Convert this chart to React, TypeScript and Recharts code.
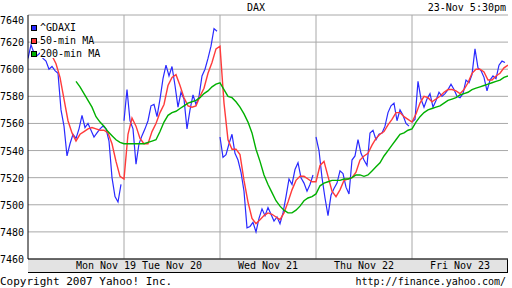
import React from 'react';
import { CartesianGrid, Legend, Line, LineChart, XAxis, YAxis } from 'recharts';

const FONT = '"DejaVu Sans Mono", monospace';

// time axis: 96 slots per session, 5 sessions
const SLOTS_PER_DAY = 96;
const TOTAL_SLOTS = 480;

// ^GDAXI, one value every 3 slots inside each session
const gdaxiMon = [7608, 7618, 7612, 7610, 7612, 7608, 7606, 7600, 7602, 7599, 7597, 7570, 7558, 7536, 7545, 7552, 7549, 7556, 7566, 7557, 7560, 7555, 7550, 7553, 7556, 7558, 7556, 7547, 7520, 7506, 7502, 7515];
const gdaxiTue = [7562, 7585, 7562, 7556, 7530, 7545, 7551, 7556, 7562, 7573, 7574, 7565, 7578, 7593, 7603, 7595, 7602, 7588, 7572, 7583, 7578, 7556, 7570, 7581, 7574, 7580, 7595, 7600, 7608, 7617, 7630, 7628];
const gdaxiWed = [7550, 7535, 7537, 7545, 7552, 7538, 7533, 7524, 7510, 7483, 7484, 7487, 7480, 7490, 7497, 7492, 7498, 7493, 7488, 7491, 7486, 7494, 7506, 7519, 7515, 7526, 7531, 7520, 7516, 7510, 7515, 7522];
const gdaxiThu = [7550, 7540, 7520, 7505, 7492, 7507, 7512, 7516, 7525, 7523, 7513, 7508, 7533, 7536, 7548, 7538, 7533, 7529, 7553, 7555, 7548, 7552, 7553, 7558, 7568, 7573, 7575, 7562, 7570, 7566, 7560, 7558];
const gdaxiFri = [7561, 7563, 7591, 7578, 7572, 7578, 7582, 7572, 7577, 7583, 7580, 7582, 7585, 7589, 7585, 7580, 7579, 7582, 7592, 7590, 7596, 7615, 7601, 7599, 7594, 7584, 7592, 7595, 7593, 7603, 7606, 7605];
const GDAXI_STEP = 3;

// moving averages, one value every 4 slots
const ma50Start = 20;
const ma50 = [
  7615, 7610, 7604, 7594, 7578, 7562, 7553, 7547, 7552, 7554, 7556, 7557, 7556, 7555, 7555, 7553, 7545, 7532, 7521,
  7519, 7552, 7564, 7558, 7549, 7545, 7545, 7554, 7560, 7568, 7574, 7588, 7594, 7596, 7588, 7579, 7573, 7572, 7573, 7580, 7586, 7597, 7605, 7615,
  7617, 7575, 7548, 7541, 7541, 7537, 7518, 7502, 7490, 7486, 7489, 7492, 7494, 7493, 7491, 7489, 7494, 7502, 7511, 7518, 7521, 7521, 7519, 7517,
  7517, 7529, 7532, 7521, 7510, 7506, 7511, 7518, 7519, 7520, 7524, 7533, 7536, 7538, 7544, 7549, 7552, 7554, 7559, 7563, 7568, 7568, 7565, 7563,
  7561, 7567, 7575, 7580, 7579, 7576, 7578, 7580, 7583, 7585, 7585, 7584, 7582, 7585, 7590, 7597, 7600, 7600, 7598, 7592, 7592, 7595, 7597, 7601, 7603
];
const ma200Start = 48;
const ma200 = [
  7591, 7587, 7582, 7577, 7572, 7565, 7561, 7558, 7554, 7551, 7548, 7546,
  7545, 7545, 7545, 7545, 7545, 7545, 7546, 7547, 7548, 7554, 7561, 7566, 7568, 7569, 7571, 7573, 7575, 7576, 7577, 7579, 7582, 7584, 7587, 7589,
  7590, 7585, 7580, 7579, 7576, 7572, 7567, 7561, 7553, 7541, 7532, 7522, 7515, 7509, 7503, 7499, 7496, 7494, 7494, 7496, 7499, 7503, 7505, 7506,
  7508, 7514, 7516, 7517, 7518, 7518, 7518, 7519, 7519, 7520, 7522, 7522, 7521, 7522, 7525, 7528, 7531, 7536, 7540, 7544, 7548, 7552, 7553, 7555,
  7556, 7561, 7565, 7568, 7570, 7571, 7572, 7573, 7575, 7577, 7578, 7579, 7581, 7582, 7583, 7585, 7586, 7587, 7588, 7589, 7590, 7591, 7592, 7594, 7595
];
const MA_STEP = 4;

const dayLabels = ['Mon Nov 19', 'Tue Nov 20', 'Wed Nov 21', 'Thu Nov 22', 'Fri Nov 23'];
const dayLabelSlots = [78, 144, 240, 336, 432];
const dayBreaks = [96, 192, 288, 384];
const priceTicks = [7460, 7480, 7500, 7520, 7540, 7560, 7580, 7600, 7620, 7640];

const series = [
  { key: 'gdaxi', name: '^GDAXI', color: '#2a2aff' },
  { key: 'ma50', name: '50-min MA', color: '#ff3b3b' },
  { key: 'ma200', name: '200-min MA', color: '#00b000' }
];

// sessions are not joined to each other
const gdaxiData = [gdaxiMon, gdaxiTue, gdaxiWed, gdaxiThu, gdaxiFri].flatMap((day, d) => [
  ...day.map((v, i) => ({ t: d * SLOTS_PER_DAY + i * GDAXI_STEP, v })),
  { t: d * SLOTS_PER_DAY + 94.5, v: null }
]);
const ma50Data = ma50.map((v, i) => ({ t: ma50Start + i * MA_STEP, v }));
const ma200Data = ma200.map((v, i) => ({ t: ma200Start + i * MA_STEP, v }));

const PriceTick = ({ x, y, payload }: any) => (
  <text x={x} y={Math.max(y, 20) + 4} textAnchor="end" fontFamily={FONT} fontSize={10} fill="#000">
    {payload.value}
  </text>
);

const DayTick = ({ x, y, payload, index }: any) => (
  <text x={x} y={y + 10} textAnchor="middle" fontFamily={FONT} fontSize={10} fill="#000">
    {dayLabels[index] ?? payload.value}
  </text>
);

const LegendBox = () => (
  <div style={{ fontFamily: FONT, fontSize: 10 }}>
    {series.map((s) => (
      <div key={s.key} style={{ display: 'flex', alignItems: 'center', height: 13 }}>
        <span style={{ width: 4, height: 4, background: s.color, border: '1px solid #000', marginRight: 3 }} />
        <span style={{ background: '#fff', lineHeight: '9px', color: '#000' }}>{s.name}</span>
      </div>
    ))}
  </div>
);

export default function App() {
  return (
    <div style={{ position: 'fixed', left: 0, top: 0, width: 512, height: 288, background: '#fff' }}>
      <div
        style={{
          position: 'absolute',
          left: 28,
          top: 259,
          width: 479,
          height: 13,
          background: '#e3e3e3',
          borderBottom: '1px solid #000',
          borderRight: '1px solid #000'
        }}
      />
      <div style={{ position: 'absolute', left: 0, top: 0 }}>
        <LineChart width={512} height={288} margin={{ top: 15, right: 4, bottom: 16, left: 0 }}>
          <CartesianGrid stroke="#a8a8a8" verticalValues={dayBreaks} />
          <XAxis
            dataKey="t"
            type="number"
            domain={[0, TOTAL_SLOTS]}
            ticks={dayLabelSlots}
            allowDataOverflow
            height={13}
            tickSize={0}
            tickMargin={0}
            tick={<DayTick />}
            axisLine={{ stroke: '#000' }}
            tickLine={false}
          />
          <XAxis
            xAxisId="top"
            orientation="top"
            type="number"
            domain={[0, TOTAL_SLOTS]}
            ticks={dayBreaks}
            height={0}
            mirror
            tickSize={5}
            tick={false}
            axisLine={{ stroke: '#000' }}
            tickLine={{ stroke: '#000' }}
          />
          <YAxis
            type="number"
            domain={[7460, 7640]}
            ticks={priceTicks}
            allowDataOverflow
            width={28}
            tickSize={0}
            tickMargin={4}
            tick={<PriceTick />}
            axisLine={{ stroke: '#000' }}
            tickLine={false}
          />
          <YAxis
            yAxisId="right"
            orientation="right"
            type="number"
            domain={[7460, 7640]}
            ticks={priceTicks}
            width={0}
            mirror
            tickSize={5}
            tick={false}
            axisLine={{ stroke: '#000' }}
            tickLine={{ stroke: '#000' }}
          />
          <Legend
            content={<LegendBox />}
            layout="vertical"
            align="center"
            verticalAlign="middle"
            wrapperStyle={{ left: 31, top: 21, width: 'auto' }}
          />
          <Line
            data={gdaxiData}
            dataKey="v"
            name={series[0].name}
            stroke={series[0].color}
            strokeWidth={1.2}
            dot={false}
            type="linear"
            isAnimationActive={false}
          />
          <Line
            data={ma50Data}
            dataKey="v"
            name={series[1].name}
            stroke={series[1].color}
            strokeWidth={1.4}
            dot={false}
            type="linear"
            isAnimationActive={false}
          />
          <Line
            data={ma200Data}
            dataKey="v"
            name={series[2].name}
            stroke={series[2].color}
            strokeWidth={1.4}
            dot={false}
            type="linear"
            isAnimationActive={false}
          />
        </LineChart>
      </div>
      <svg width={512} height={288} style={{ position: 'absolute', left: 0, top: 0, pointerEvents: 'none' }}>
        <g fontFamily={FONT} fill="#000">
          <text x={256} y={11} fontSize={10} textAnchor="middle">DAX</text>
          <text x={506} y={11} fontSize={10} textAnchor="end">23-Nov 5:30pm</text>
          <text x={0} y={285} fontSize={11}>Copyright 2007 Yahoo! Inc.</text>
          <text x={506} y={285} fontSize={10} textAnchor="end">http://finance.yahoo.com/</text>
        </g>
      </svg>
    </div>
  );
}
